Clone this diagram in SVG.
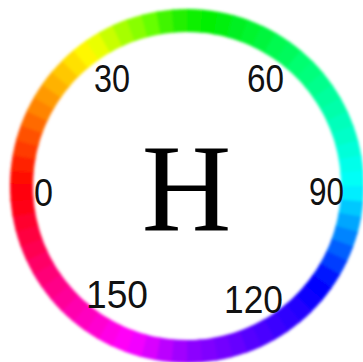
<svg xmlns="http://www.w3.org/2000/svg" xmlns:xlink="http://www.w3.org/1999/xlink" width="363" height="362" viewBox="0 0 363 362">
<style>
.lbl{font-family:"Liberation Sans",Arial,sans-serif;font-size:39px;fill:#111}
.big{font-family:"Liberation Serif","Times New Roman",serif;font-size:124px;fill:#000}
</style>
<defs>
<circle id="seg" cx="0" cy="0" r="165.5" fill="none" stroke-width="23" pathLength="360" stroke-dasharray="5.8 354.2"/>
<filter id="soft" x="-10%" y="-10%" width="120%" height="120%"><feGaussianBlur stdDeviation="1.6"/></filter>
</defs>
<rect width="363" height="362" fill="#fff"/>
<g id="ring" transform="translate(187 186)" filter="url(#soft)">
<use href="#seg" transform="rotate(180)" stroke="hsl(3,100%,50%)"/>
<use href="#seg" transform="rotate(185)" stroke="hsl(8,100%,50%)"/>
<use href="#seg" transform="rotate(190)" stroke="hsl(14,100%,50%)"/>
<use href="#seg" transform="rotate(195)" stroke="hsl(19,100%,50%)"/>
<use href="#seg" transform="rotate(200)" stroke="hsl(25,100%,50%)"/>
<use href="#seg" transform="rotate(205)" stroke="hsl(31,100%,50%)"/>
<use href="#seg" transform="rotate(210)" stroke="hsl(36,100%,50%)"/>
<use href="#seg" transform="rotate(215)" stroke="hsl(42,100%,50%)"/>
<use href="#seg" transform="rotate(220)" stroke="hsl(47,100%,50%)"/>
<use href="#seg" transform="rotate(225)" stroke="hsl(53,100%,50%)"/>
<use href="#seg" transform="rotate(230)" stroke="hsl(58,100%,50%)"/>
<use href="#seg" transform="rotate(235)" stroke="hsl(65,100%,50%)"/>
<use href="#seg" transform="rotate(240)" stroke="hsl(73,100%,50%)"/>
<use href="#seg" transform="rotate(245)" stroke="hsl(81,100%,50%)"/>
<use href="#seg" transform="rotate(250)" stroke="hsl(88,100%,50%)"/>
<use href="#seg" transform="rotate(255)" stroke="hsl(96,100%,50%)"/>
<use href="#seg" transform="rotate(260)" stroke="hsl(104,100%,48%)"/>
<use href="#seg" transform="rotate(265)" stroke="hsl(111,100%,47%)"/>
<use href="#seg" transform="rotate(270)" stroke="hsl(117,100%,47%)"/>
<use href="#seg" transform="rotate(275)" stroke="hsl(120,100%,47%)"/>
<use href="#seg" transform="rotate(280)" stroke="hsl(124,100%,47%)"/>
<use href="#seg" transform="rotate(285)" stroke="hsl(128,100%,47%)"/>
<use href="#seg" transform="rotate(290)" stroke="hsl(131,100%,48%)"/>
<use href="#seg" transform="rotate(295)" stroke="hsl(135,100%,48%)"/>
<use href="#seg" transform="rotate(300)" stroke="hsl(139,100%,49%)"/>
<use href="#seg" transform="rotate(305)" stroke="hsl(142,100%,49%)"/>
<use href="#seg" transform="rotate(310)" stroke="hsl(146,100%,50%)"/>
<use href="#seg" transform="rotate(315)" stroke="hsl(149,100%,50%)"/>
<use href="#seg" transform="rotate(320)" stroke="hsl(153,100%,50%)"/>
<use href="#seg" transform="rotate(325)" stroke="hsl(157,100%,50%)"/>
<use href="#seg" transform="rotate(330)" stroke="hsl(160,100%,50%)"/>
<use href="#seg" transform="rotate(335)" stroke="hsl(164,100%,50%)"/>
<use href="#seg" transform="rotate(340)" stroke="hsl(167,100%,50%)"/>
<use href="#seg" transform="rotate(345)" stroke="hsl(171,100%,50%)"/>
<use href="#seg" transform="rotate(350)" stroke="hsl(175,100%,50%)"/>
<use href="#seg" transform="rotate(355)" stroke="hsl(178,100%,50%)"/>
<use href="#seg" transform="rotate(360)" stroke="hsl(184,100%,50%)"/>
<use href="#seg" transform="rotate(365)" stroke="hsl(193,100%,50%)"/>
<use href="#seg" transform="rotate(370)" stroke="hsl(201,100%,50%)"/>
<use href="#seg" transform="rotate(375)" stroke="hsl(209,100%,50%)"/>
<use href="#seg" transform="rotate(380)" stroke="hsl(218,100%,50%)"/>
<use href="#seg" transform="rotate(385)" stroke="hsl(226,100%,50%)"/>
<use href="#seg" transform="rotate(390)" stroke="hsl(234,100%,50%)"/>
<use href="#seg" transform="rotate(395)" stroke="hsl(241,100%,50%)"/>
<use href="#seg" transform="rotate(400)" stroke="hsl(244,100%,50%)"/>
<use href="#seg" transform="rotate(405)" stroke="hsl(248,100%,50%)"/>
<use href="#seg" transform="rotate(410)" stroke="hsl(251,100%,50%)"/>
<use href="#seg" transform="rotate(415)" stroke="hsl(254,100%,50%)"/>
<use href="#seg" transform="rotate(420)" stroke="hsl(257,100%,50%)"/>
<use href="#seg" transform="rotate(425)" stroke="hsl(260,100%,50%)"/>
<use href="#seg" transform="rotate(430)" stroke="hsl(264,100%,50%)"/>
<use href="#seg" transform="rotate(435)" stroke="hsl(267,100%,50%)"/>
<use href="#seg" transform="rotate(440)" stroke="hsl(270,100%,50%)"/>
<use href="#seg" transform="rotate(445)" stroke="hsl(273,100%,50%)"/>
<use href="#seg" transform="rotate(450)" stroke="hsl(278,100%,50%)"/>
<use href="#seg" transform="rotate(455)" stroke="hsl(284,100%,50%)"/>
<use href="#seg" transform="rotate(460)" stroke="hsl(291,100%,50%)"/>
<use href="#seg" transform="rotate(465)" stroke="hsl(297,100%,50%)"/>
<use href="#seg" transform="rotate(470)" stroke="hsl(302,100%,50%)"/>
<use href="#seg" transform="rotate(475)" stroke="hsl(306,100%,50%)"/>
<use href="#seg" transform="rotate(480)" stroke="hsl(311,100%,50%)"/>
<use href="#seg" transform="rotate(485)" stroke="hsl(315,100%,50%)"/>
<use href="#seg" transform="rotate(490)" stroke="hsl(319,100%,50%)"/>
<use href="#seg" transform="rotate(495)" stroke="hsl(324,100%,50%)"/>
<use href="#seg" transform="rotate(500)" stroke="hsl(328,100%,50%)"/>
<use href="#seg" transform="rotate(505)" stroke="hsl(332,100%,50%)"/>
<use href="#seg" transform="rotate(510)" stroke="hsl(336,100%,50%)"/>
<use href="#seg" transform="rotate(515)" stroke="hsl(341,100%,50%)"/>
<use href="#seg" transform="rotate(520)" stroke="hsl(345,100%,50%)"/>
<use href="#seg" transform="rotate(525)" stroke="hsl(349,100%,50%)"/>
<use href="#seg" transform="rotate(530)" stroke="hsl(354,100%,50%)"/>
<use href="#seg" transform="rotate(535)" stroke="hsl(358,100%,50%)"/>
</g>
<g id="labels">
<text class="lbl" x="94" y="92" textLength="36" lengthAdjust="spacingAndGlyphs">30</text>
<text class="lbl" x="247" y="92" textLength="37" lengthAdjust="spacingAndGlyphs">60</text>
<text class="lbl" x="34" y="206" textLength="19" lengthAdjust="spacingAndGlyphs">0</text>
<text class="lbl" x="309" y="205" textLength="35" lengthAdjust="spacingAndGlyphs">90</text>
<text class="lbl" x="86" y="308" textLength="62" lengthAdjust="spacingAndGlyphs">150</text>
<text class="lbl" x="224" y="313" textLength="59" lengthAdjust="spacingAndGlyphs">120</text>
</g>
<g id="title">
<text class="big" x="186.5" y="230" text-anchor="middle">H</text>
</g>
</svg>
